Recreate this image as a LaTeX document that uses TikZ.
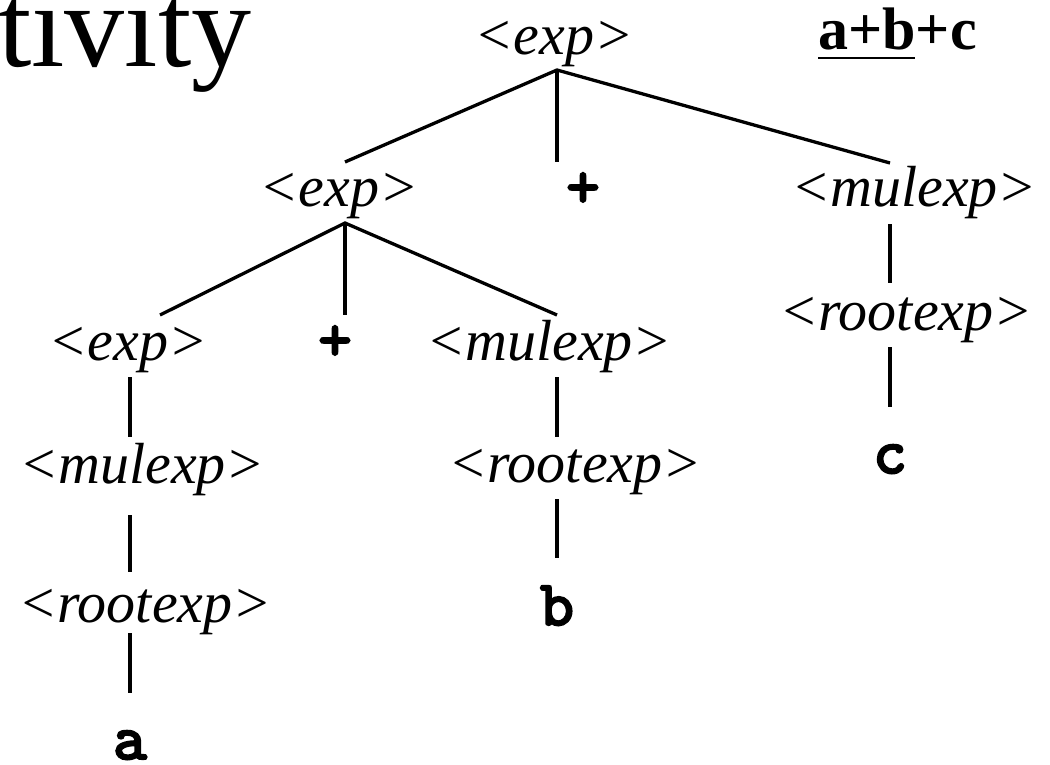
\documentclass[tikz,border=0pt]{standalone}
\usepackage{fontspec}
\setmainfont{Liberation Serif}
\newfontfamily\codefont[FakeBold=3.5]{lmmono10-regular.otf}
\begin{document}
\begin{tikzpicture}[x=1pt,y=-1pt,
  nt/.style={inner sep=0pt,anchor=base,font=\fontsize{58}{60}\selectfont\itshape},
  tok/.style={inner sep=0pt,anchor=base,font=\fontsize{64}{66}\selectfont\codefont\bfseries},
  edge/.style={line width=3.3pt,line cap=butt}]
\useasboundingbox[fill=white] (0,0) rectangle (1050,765);
% title
\node[inner sep=0pt,anchor=base west,font=\fontsize{120}{122}\selectfont] (title) at (-2,67) {tivity};
\node[inner sep=0pt,anchor=base east,font=\fontsize{60}{62}\selectfont\bfseries] (abc) at (977,50) {a+b+c};
\draw[line width=2.6pt] ([yshift=-8pt]abc.base west) coordinate (ul0) -- ([xshift=97pt]ul0) coordinate (ul1);
% nodes
\node[nt] (root) at (554,55) {<exp>};
\node[nt] (exp1) at (339,207) {<exp>};
\node[tok] (plus1) at (583,207) {+};
\node[nt] (mul1) at (914,207) {<mulexp>};
\node[nt] (exp2) at (128,360) {<exp>};
\node[tok] (plus2) at (335,360) {+};
\node[nt] (mul2) at (549,360) {<mulexp>};
\node[nt] (rootR) at (906,330) {<rootexp>};
\node[nt] (mul3) at (142,483) {<mulexp>};
\node[nt] (root3) at (575,482) {<rootexp>};
\node[tok] (c) at (890,473) {c};
\node[nt] (root4) at (145,622) {<rootexp>};
\node[tok] (b) at (557,625) {b};
\node[tok] (a) at (130,759) {a};
% connector points
\coordinate (j0) at (557,70);
\coordinate (exp1t) at (345,162);
\coordinate (plus1t) at (557,162);
\coordinate (mul1t) at (890,163);
\coordinate (j1) at (345,223);
\coordinate (exp2t) at (160,315);
\coordinate (plus2t) at (345,315);
\coordinate (mul2t) at (557,315);
\coordinate (exp2b) at (130,377);
\coordinate (mul3t) at (130,437);
\coordinate (mul3b) at (130,515);
\coordinate (root4t) at (130,572);
\coordinate (root4b) at (130,633);
\coordinate (at) at (130,693);
\coordinate (mul2b) at (557,377);
\coordinate (root3t) at (557,437);
\coordinate (root3b) at (557,499);
\coordinate (bt) at (557,558);
\coordinate (mul1b) at (890,224);
\coordinate (rootRt) at (890,283);
\coordinate (rootRb) at (890,347);
\coordinate (ct) at (890,407);
% connectors
\draw[edge] (exp1t) -- (j0) -- (mul1t);
\draw[edge] (j0) -- (plus1t);
\draw[edge] (exp2t) -- (j1) -- (mul2t);
\draw[edge] (j1) -- (plus2t);
\draw[edge] (exp2b) -- (mul3t);
\draw[edge] (mul3b) -- (root4t);
\draw[edge] (root4b) -- (at);
\draw[edge] (mul2b) -- (root3t);
\draw[edge] (root3b) -- (bt);
\draw[edge] (mul1b) -- (rootRt);
\draw[edge] (rootRb) -- (ct);
\end{tikzpicture}
\end{document}
